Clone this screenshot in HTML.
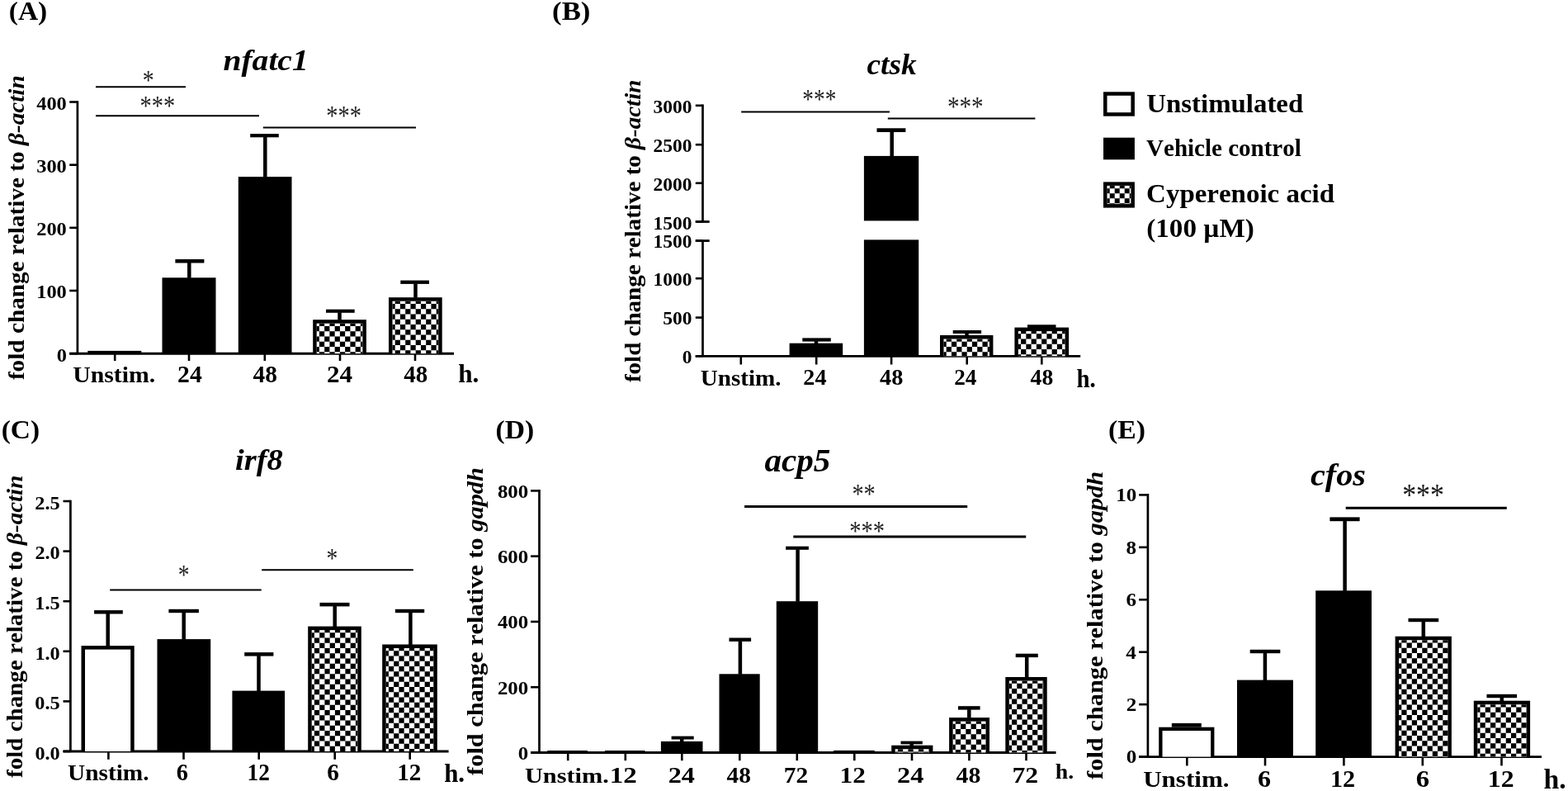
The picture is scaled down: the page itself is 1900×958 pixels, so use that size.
<!DOCTYPE html>
<html><head><meta charset="utf-8"><title>Figure</title>
<style>
html,body{margin:0;padding:0;background:#fff;width:1900px;height:958px;overflow:hidden}
svg{display:block}
text{font-family:"Liberation Serif", "Times New Roman", serif;font-kerning:none;font-variant-ligatures:none}
</style></head>
<body>
<svg width="1900" height="958" viewBox="0 0 1900 958">
<rect width="1900" height="958" fill="#fff"/>
<text transform="translate(10.83,23.7) scale(1.0456,1)" font-size="32" font-weight="bold" fill="#000">(A)</text>
<text transform="translate(270.49,85.4) scale(1.1045,1)" font-size="35.79" font-style="italic" font-weight="bold" fill="#000">nfatc1</text>
<text transform="translate(28.5,460.11) rotate(-90) scale(1.0779,1)" font-size="27.13" font-weight="bold" fill="#000">fold change relative to <tspan font-style="italic">&#946;-actin</tspan></text>
<line x1="93.9" y1="122.2" x2="93.9" y2="428.2" stroke="#000" stroke-width="2.7"/>
<line x1="84.2" y1="428.2" x2="93.9" y2="428.2" stroke="#000" stroke-width="2.6"/>
<text transform="translate(68.63,437.5) scale(1.0800,1)" font-size="22.6" font-weight="bold" fill="#000">0</text>
<line x1="84.2" y1="352.02" x2="93.9" y2="352.02" stroke="#000" stroke-width="2.6"/>
<text transform="translate(44.22,361.32) scale(1.0800,1)" font-size="22.6" font-weight="bold" fill="#000">100</text>
<line x1="84.2" y1="275.85" x2="93.9" y2="275.85" stroke="#000" stroke-width="2.6"/>
<text transform="translate(44.22,285.15) scale(1.0800,1)" font-size="22.6" font-weight="bold" fill="#000">200</text>
<line x1="84.2" y1="199.68" x2="93.9" y2="199.68" stroke="#000" stroke-width="2.6"/>
<text transform="translate(44.22,208.98) scale(1.0800,1)" font-size="22.6" font-weight="bold" fill="#000">300</text>
<line x1="84.2" y1="123.5" x2="93.9" y2="123.5" stroke="#000" stroke-width="2.6"/>
<text transform="translate(44.22,132.8) scale(1.0800,1)" font-size="22.6" font-weight="bold" fill="#000">400</text>
<line x1="84.2" y1="428.2" x2="550" y2="428.2" stroke="#000" stroke-width="3"/>
<line x1="139.2" y1="428.2" x2="139.2" y2="437.1" stroke="#000" stroke-width="2.6"/>
<line x1="229" y1="428.2" x2="229" y2="437.1" stroke="#000" stroke-width="2.6"/>
<line x1="320.8" y1="428.2" x2="320.8" y2="437.1" stroke="#000" stroke-width="2.6"/>
<line x1="412" y1="428.2" x2="412" y2="437.1" stroke="#000" stroke-width="2.6"/>
<line x1="503" y1="428.2" x2="503" y2="437.1" stroke="#000" stroke-width="2.6"/>
<rect x="106.3" y="424.9" width="65" height="3.3" fill="#000"/>
<rect x="196.5" y="336.3" width="65" height="91.9" fill="#000"/>
<rect x="227.05" y="318" width="4.5" height="18.8" fill="#000"/>
<rect x="212.4" y="314" width="35" height="4.5" fill="#000"/>
<rect x="288.8" y="214.1" width="64.7" height="214.1" fill="#000"/>
<rect x="319.05" y="165.8" width="4.5" height="48.8" fill="#000"/>
<rect x="303.2" y="162.1" width="34.6" height="4.2" fill="#000"/>
<rect x="379.2" y="387.2" width="64.7" height="41" fill="#000"/>
<rect x="383.7" y="391.7" width="55.7" height="36.5" fill="#fff"/>
<path d="M386.9 391.7H393.15V394.95H386.9ZM399.4 391.7H405.65V394.95H399.4ZM411.9 391.7H418.15V394.95H411.9ZM424.4 391.7H430.65V394.95H424.4ZM436.9 391.7H439.4V394.95H436.9ZM383.7 394.95H386.9V401.2H383.7ZM393.15 394.95H399.4V401.2H393.15ZM405.65 394.95H411.9V401.2H405.65ZM418.15 394.95H424.4V401.2H418.15ZM430.65 394.95H436.9V401.2H430.65ZM386.9 401.2H393.15V407.45H386.9ZM399.4 401.2H405.65V407.45H399.4ZM411.9 401.2H418.15V407.45H411.9ZM424.4 401.2H430.65V407.45H424.4ZM436.9 401.2H439.4V407.45H436.9ZM383.7 407.45H386.9V413.7H383.7ZM393.15 407.45H399.4V413.7H393.15ZM405.65 407.45H411.9V413.7H405.65ZM418.15 407.45H424.4V413.7H418.15ZM430.65 407.45H436.9V413.7H430.65ZM386.9 413.7H393.15V419.95H386.9ZM399.4 413.7H405.65V419.95H399.4ZM411.9 413.7H418.15V419.95H411.9ZM424.4 413.7H430.65V419.95H424.4ZM436.9 413.7H439.4V419.95H436.9ZM383.7 419.95H386.9V426.2H383.7ZM393.15 419.95H399.4V426.2H393.15ZM405.65 419.95H411.9V426.2H405.65ZM418.15 419.95H424.4V426.2H418.15ZM430.65 419.95H436.9V426.2H430.65ZM386.9 426.2H393.15V428.2H386.9ZM399.4 426.2H405.65V428.2H399.4ZM411.9 426.2H418.15V428.2H411.9ZM424.4 426.2H430.65V428.2H424.4ZM436.9 426.2H439.4V428.2H436.9Z" fill="#000"/>
<rect x="409.25" y="378.3" width="4.5" height="9.4" fill="#000"/>
<rect x="395" y="374.7" width="34.7" height="4.1" fill="#000"/>
<rect x="471" y="360.2" width="64.7" height="68" fill="#000"/>
<rect x="475.5" y="364.7" width="55.7" height="63.5" fill="#fff"/>
<path d="M478.7 364.7H484.95V367.95H478.7ZM491.2 364.7H497.45V367.95H491.2ZM503.7 364.7H509.95V367.95H503.7ZM516.2 364.7H522.45V367.95H516.2ZM528.7 364.7H531.2V367.95H528.7ZM475.5 367.95H478.7V374.2H475.5ZM484.95 367.95H491.2V374.2H484.95ZM497.45 367.95H503.7V374.2H497.45ZM509.95 367.95H516.2V374.2H509.95ZM522.45 367.95H528.7V374.2H522.45ZM478.7 374.2H484.95V380.45H478.7ZM491.2 374.2H497.45V380.45H491.2ZM503.7 374.2H509.95V380.45H503.7ZM516.2 374.2H522.45V380.45H516.2ZM528.7 374.2H531.2V380.45H528.7ZM475.5 380.45H478.7V386.7H475.5ZM484.95 380.45H491.2V386.7H484.95ZM497.45 380.45H503.7V386.7H497.45ZM509.95 380.45H516.2V386.7H509.95ZM522.45 380.45H528.7V386.7H522.45ZM478.7 386.7H484.95V392.95H478.7ZM491.2 386.7H497.45V392.95H491.2ZM503.7 386.7H509.95V392.95H503.7ZM516.2 386.7H522.45V392.95H516.2ZM528.7 386.7H531.2V392.95H528.7ZM475.5 392.95H478.7V399.2H475.5ZM484.95 392.95H491.2V399.2H484.95ZM497.45 392.95H503.7V399.2H497.45ZM509.95 392.95H516.2V399.2H509.95ZM522.45 392.95H528.7V399.2H522.45ZM478.7 399.2H484.95V405.45H478.7ZM491.2 399.2H497.45V405.45H491.2ZM503.7 399.2H509.95V405.45H503.7ZM516.2 399.2H522.45V405.45H516.2ZM528.7 399.2H531.2V405.45H528.7ZM475.5 405.45H478.7V411.7H475.5ZM484.95 405.45H491.2V411.7H484.95ZM497.45 405.45H503.7V411.7H497.45ZM509.95 405.45H516.2V411.7H509.95ZM522.45 405.45H528.7V411.7H522.45ZM478.7 411.7H484.95V417.95H478.7ZM491.2 411.7H497.45V417.95H491.2ZM503.7 411.7H509.95V417.95H503.7ZM516.2 411.7H522.45V417.95H516.2ZM528.7 411.7H531.2V417.95H528.7ZM475.5 417.95H478.7V424.2H475.5ZM484.95 417.95H491.2V424.2H484.95ZM497.45 417.95H503.7V424.2H497.45ZM509.95 417.95H516.2V424.2H509.95ZM522.45 417.95H528.7V424.2H522.45ZM478.7 424.2H484.95V428.2H478.7ZM491.2 424.2H497.45V428.2H491.2ZM503.7 424.2H509.95V428.2H503.7ZM516.2 424.2H522.45V428.2H516.2ZM528.7 424.2H531.2V428.2H528.7Z" fill="#000"/>
<rect x="501.25" y="343.4" width="4.5" height="17.3" fill="#000"/>
<rect x="485.3" y="339.6" width="34.7" height="4.3" fill="#000"/>
<line x1="116" y1="105.3" x2="225" y2="105.3" stroke="#000" stroke-width="2"/>
<text transform="translate(172.84,107.84) scale(0.8212,1)" font-size="33.82" fill="#222">*</text>
<line x1="116" y1="140.2" x2="314" y2="140.2" stroke="#000" stroke-width="2"/>
<text transform="translate(169.61,139.44) scale(0.8408,1)" font-size="33.82" fill="#222">***</text>
<line x1="318.8" y1="154.6" x2="504" y2="154.6" stroke="#000" stroke-width="2"/>
<text transform="translate(395.21,150.54) scale(0.8408,1)" font-size="33.82" fill="#222">***</text>
<text transform="translate(88.26,462.9) scale(1.0870,1)" font-size="27.38" font-weight="bold" fill="#000">Unstim.</text>
<text transform="translate(215.05,463) scale(1.0404,1)" font-size="28.55" font-weight="bold" fill="#000">24</text>
<text transform="translate(306.6,463) scale(1.0337,1)" font-size="28.42" font-weight="bold" fill="#000">48</text>
<text transform="translate(396.09,463) scale(1.0889,1)" font-size="28.55" font-weight="bold" fill="#000">24</text>
<text transform="translate(489.3,463) scale(1.0226,1)" font-size="28.42" font-weight="bold" fill="#000">48</text>
<text transform="translate(555.22,463.1) scale(0.9929,1)" font-size="31.42" font-weight="bold" fill="#000">h.</text>
<text transform="translate(669.07,23.7) scale(1.0869,1)" font-size="32" font-weight="bold" fill="#000">(B)</text>
<text transform="translate(1050.45,89.5) scale(1.0616,1)" font-size="35.17" font-style="italic" font-weight="bold" fill="#000">ctsk</text>
<text transform="translate(775.7,463.11) rotate(-90) scale(1.0543,1)" font-size="27.55" font-weight="bold" fill="#000">fold change relative to <tspan font-style="italic">&#946;-actin</tspan></text>
<line x1="851.5" y1="126.5" x2="851.5" y2="268.5" stroke="#000" stroke-width="2.7"/>
<line x1="842.8" y1="127.8" x2="851.5" y2="127.8" stroke="#000" stroke-width="2.6"/>
<text transform="translate(791.49,137) scale(1.0400,1)" font-size="22.6" font-weight="bold" fill="#000">3000</text>
<line x1="842.8" y1="175.2" x2="851.5" y2="175.2" stroke="#000" stroke-width="2.6"/>
<text transform="translate(791.49,184.4) scale(1.0400,1)" font-size="22.6" font-weight="bold" fill="#000">2500</text>
<line x1="842.8" y1="221.8" x2="851.5" y2="221.8" stroke="#000" stroke-width="2.6"/>
<text transform="translate(791.49,231) scale(1.0400,1)" font-size="22.6" font-weight="bold" fill="#000">2000</text>
<line x1="842.8" y1="268.5" x2="851.5" y2="268.5" stroke="#000" stroke-width="2.6"/>
<text transform="translate(791.49,277.7) scale(1.0400,1)" font-size="22.6" font-weight="bold" fill="#000">1500</text>
<line x1="851.5" y1="291.6" x2="851.5" y2="431.3" stroke="#000" stroke-width="2.7"/>
<line x1="842.8" y1="291.6" x2="851.5" y2="291.6" stroke="#000" stroke-width="2.6"/>
<text transform="translate(791.49,300) scale(1.0400,1)" font-size="22.6" font-weight="bold" fill="#000">1500</text>
<line x1="842.8" y1="337.2" x2="851.5" y2="337.2" stroke="#000" stroke-width="2.6"/>
<text transform="translate(791.49,345.6) scale(1.0400,1)" font-size="22.6" font-weight="bold" fill="#000">1000</text>
<line x1="842.8" y1="384.6" x2="851.5" y2="384.6" stroke="#000" stroke-width="2.6"/>
<text transform="translate(803.24,393) scale(1.0400,1)" font-size="22.6" font-weight="bold" fill="#000">500</text>
<line x1="842.8" y1="431.3" x2="851.5" y2="431.3" stroke="#000" stroke-width="2.6"/>
<text transform="translate(826.74,439.7) scale(1.0400,1)" font-size="22.6" font-weight="bold" fill="#000">0</text>
<line x1="842.8" y1="268.5" x2="859.7" y2="268.5" stroke="#000" stroke-width="2.8"/>
<line x1="842.8" y1="291.6" x2="859.7" y2="291.6" stroke="#000" stroke-width="2.8"/>
<line x1="842.7" y1="431.3" x2="1309.2" y2="431.3" stroke="#000" stroke-width="2.8"/>
<line x1="897.8" y1="431.3" x2="897.8" y2="441.5" stroke="#000" stroke-width="2.6"/>
<line x1="989.2" y1="431.3" x2="989.2" y2="441.5" stroke="#000" stroke-width="2.6"/>
<line x1="1080.1" y1="431.3" x2="1080.1" y2="441.5" stroke="#000" stroke-width="2.6"/>
<line x1="1171.7" y1="431.3" x2="1171.7" y2="441.5" stroke="#000" stroke-width="2.6"/>
<line x1="1262.3" y1="431.3" x2="1262.3" y2="441.5" stroke="#000" stroke-width="2.6"/>
<rect x="956.6" y="415.7" width="64.6" height="15.6" fill="#000"/>
<rect x="986.75" y="413.1" width="4.5" height="3.1" fill="#000"/>
<rect x="972.3" y="409.4" width="34.5" height="4.2" fill="#000"/>
<rect x="1046.9" y="188.9" width="66.3" height="78.5" fill="#000"/>
<rect x="1046.9" y="290.4" width="66.3" height="140.9" fill="#000"/>
<rect x="1078.45" y="159.5" width="4.5" height="29.9" fill="#000"/>
<rect x="1062.5" y="155.3" width="34.9" height="4.7" fill="#000"/>
<rect x="1139" y="406" width="64.4" height="25.3" fill="#000"/>
<rect x="1143.5" y="410.5" width="55.4" height="20.8" fill="#fff"/>
<path d="M1146.7 410.5H1152.95V413.75H1146.7ZM1159.2 410.5H1165.45V413.75H1159.2ZM1171.7 410.5H1177.95V413.75H1171.7ZM1184.2 410.5H1190.45V413.75H1184.2ZM1196.7 410.5H1198.9V413.75H1196.7ZM1143.5 413.75H1146.7V420H1143.5ZM1152.95 413.75H1159.2V420H1152.95ZM1165.45 413.75H1171.7V420H1165.45ZM1177.95 413.75H1184.2V420H1177.95ZM1190.45 413.75H1196.7V420H1190.45ZM1146.7 420H1152.95V426.25H1146.7ZM1159.2 420H1165.45V426.25H1159.2ZM1171.7 420H1177.95V426.25H1171.7ZM1184.2 420H1190.45V426.25H1184.2ZM1196.7 420H1198.9V426.25H1196.7ZM1143.5 426.25H1146.7V431.3H1143.5ZM1152.95 426.25H1159.2V431.3H1152.95ZM1165.45 426.25H1171.7V431.3H1165.45ZM1177.95 426.25H1184.2V431.3H1177.95ZM1190.45 426.25H1196.7V431.3H1190.45Z" fill="#000"/>
<rect x="1169.25" y="403.5" width="4.5" height="3" fill="#000"/>
<rect x="1154.7" y="400" width="34.4" height="4" fill="#000"/>
<rect x="1229.4" y="396.6" width="65.7" height="34.7" fill="#000"/>
<rect x="1233.9" y="401.1" width="56.7" height="30.2" fill="#fff"/>
<path d="M1237.1 401.1H1243.35V404.35H1237.1ZM1249.6 401.1H1255.85V404.35H1249.6ZM1262.1 401.1H1268.35V404.35H1262.1ZM1274.6 401.1H1280.85V404.35H1274.6ZM1287.1 401.1H1290.6V404.35H1287.1ZM1233.9 404.35H1237.1V410.6H1233.9ZM1243.35 404.35H1249.6V410.6H1243.35ZM1255.85 404.35H1262.1V410.6H1255.85ZM1268.35 404.35H1274.6V410.6H1268.35ZM1280.85 404.35H1287.1V410.6H1280.85ZM1237.1 410.6H1243.35V416.85H1237.1ZM1249.6 410.6H1255.85V416.85H1249.6ZM1262.1 410.6H1268.35V416.85H1262.1ZM1274.6 410.6H1280.85V416.85H1274.6ZM1287.1 410.6H1290.6V416.85H1287.1ZM1233.9 416.85H1237.1V423.1H1233.9ZM1243.35 416.85H1249.6V423.1H1243.35ZM1255.85 416.85H1262.1V423.1H1255.85ZM1268.35 416.85H1274.6V423.1H1268.35ZM1280.85 416.85H1287.1V423.1H1280.85ZM1237.1 423.1H1243.35V429.35H1237.1ZM1249.6 423.1H1255.85V429.35H1249.6ZM1262.1 423.1H1268.35V429.35H1262.1ZM1274.6 423.1H1280.85V429.35H1274.6ZM1287.1 423.1H1290.6V429.35H1287.1ZM1233.9 429.35H1237.1V431.3H1233.9ZM1243.35 429.35H1249.6V431.3H1243.35ZM1255.85 429.35H1262.1V431.3H1255.85ZM1268.35 429.35H1274.6V431.3H1268.35ZM1280.85 429.35H1287.1V431.3H1280.85Z" fill="#000"/>
<rect x="1245" y="393.3" width="34.5" height="4" fill="#000"/>
<line x1="898.2" y1="135.5" x2="1078" y2="135.5" stroke="#000" stroke-width="2"/>
<text transform="translate(972.37,131.33) scale(0.8340,1)" font-size="32.72" fill="#222">***</text>
<line x1="1075.8" y1="143.4" x2="1254.4" y2="143.4" stroke="#000" stroke-width="2"/>
<text transform="translate(1147.98,140.18) scale(0.8760,1)" font-size="33.27" fill="#222">***</text>
<text transform="translate(848.67,466.5) scale(1.0704,1)" font-size="27.24" font-weight="bold" fill="#000">Unstim.</text>
<text transform="translate(973.32,466.4) scale(1.0041,1)" font-size="28.09" font-weight="bold" fill="#000">24</text>
<text transform="translate(1066.01,466.4) scale(1.0129,1)" font-size="27.97" font-weight="bold" fill="#000">48</text>
<text transform="translate(1156.16,466.4) scale(0.9700,1)" font-size="28.09" font-weight="bold" fill="#000">24</text>
<text transform="translate(1248.62,466.4) scale(0.9866,1)" font-size="27.97" font-weight="bold" fill="#000">48</text>
<text transform="translate(1304.38,469.1) scale(0.9411,1)" font-size="30.7" font-weight="bold" fill="#000">h.</text>
<rect x="1337" y="111.3" width="37.9" height="29.4" fill="#000"/>
<rect x="1341.5" y="115.8" width="28.9" height="20.4" fill="#fff"/>
<rect x="1337" y="166.7" width="37.9" height="26.6" fill="#000"/>
<rect x="1337" y="220.4" width="37.9" height="31.2" fill="#000"/>
<rect x="1341.5" y="224.9" width="28.9" height="22.2" fill="#fff"/>
<path d="M1344.7 224.9H1350.7V228.3H1344.7ZM1356.7 224.9H1362.7V228.3H1356.7ZM1368.7 224.9H1370.4V228.3H1368.7ZM1341.5 228.3H1344.7V234.3H1341.5ZM1350.7 228.3H1356.7V234.3H1350.7ZM1362.7 228.3H1368.7V234.3H1362.7ZM1344.7 234.3H1350.7V240.3H1344.7ZM1356.7 234.3H1362.7V240.3H1356.7ZM1368.7 234.3H1370.4V240.3H1368.7ZM1341.5 240.3H1344.7V246.3H1341.5ZM1350.7 240.3H1356.7V246.3H1350.7ZM1362.7 240.3H1368.7V246.3H1362.7ZM1344.7 246.3H1350.7V247.1H1344.7ZM1356.7 246.3H1362.7V247.1H1356.7ZM1368.7 246.3H1370.4V247.1H1368.7Z" fill="#000"/>
<text transform="translate(1389.28,136.3) scale(1.0139,1)" font-size="32.43" font-weight="bold" fill="#000">Unstimulated</text>
<text transform="translate(1389.07,188.8) scale(1.0071,1)" font-size="28.82" font-weight="bold" fill="#000">Vehicle control</text>
<text transform="translate(1389.09,245.3) scale(1.0546,1)" font-size="31.27" font-weight="bold" fill="#000">Cyperenoic acid</text>
<text transform="translate(1389.24,287) scale(1.0410,1)" font-size="31.85" font-weight="bold" fill="#000">(100 &#181;M)</text>
<text transform="translate(1.63,531) scale(1.0551,1)" font-size="31.71" font-weight="bold" fill="#000">(C)</text>
<text transform="translate(285.02,569.2) scale(1.0633,1)" font-size="36.22" font-style="italic" font-weight="bold" fill="#000">irf8</text>
<text transform="translate(27,941.91) rotate(-90) scale(1.0589,1)" font-size="27.41" font-weight="bold" fill="#000">fold change relative to <tspan font-style="italic">&#946;-actin</tspan></text>
<line x1="85.4" y1="605.7" x2="85.4" y2="910" stroke="#000" stroke-width="2.7"/>
<line x1="76.5" y1="910" x2="85.4" y2="910" stroke="#000" stroke-width="2.6"/>
<text transform="translate(42.38,919.7) scale(1.0600,1)" font-size="22.9" font-weight="bold" fill="#000">0.0</text>
<line x1="76.5" y1="849.4" x2="85.4" y2="849.4" stroke="#000" stroke-width="2.6"/>
<text transform="translate(42.35,859.1) scale(1.0600,1)" font-size="22.9" font-weight="bold" fill="#000">0.5</text>
<line x1="76.5" y1="788.8" x2="85.4" y2="788.8" stroke="#000" stroke-width="2.6"/>
<text transform="translate(42.38,798.5) scale(1.0600,1)" font-size="22.9" font-weight="bold" fill="#000">1.0</text>
<line x1="76.5" y1="728.2" x2="85.4" y2="728.2" stroke="#000" stroke-width="2.6"/>
<text transform="translate(42.35,737.9) scale(1.0600,1)" font-size="22.9" font-weight="bold" fill="#000">1.5</text>
<line x1="76.5" y1="667.6" x2="85.4" y2="667.6" stroke="#000" stroke-width="2.6"/>
<text transform="translate(42.38,677.3) scale(1.0600,1)" font-size="22.9" font-weight="bold" fill="#000">2.0</text>
<line x1="76.5" y1="607" x2="85.4" y2="607" stroke="#000" stroke-width="2.6"/>
<text transform="translate(42.35,616.7) scale(1.0600,1)" font-size="22.9" font-weight="bold" fill="#000">2.5</text>
<line x1="76.5" y1="910" x2="543.6" y2="910" stroke="#000" stroke-width="3"/>
<line x1="131.4" y1="910" x2="131.4" y2="919.8" stroke="#000" stroke-width="2.6"/>
<line x1="222.5" y1="910" x2="222.5" y2="919.8" stroke="#000" stroke-width="2.6"/>
<line x1="313.7" y1="910" x2="313.7" y2="919.8" stroke="#000" stroke-width="2.6"/>
<line x1="405.7" y1="910" x2="405.7" y2="919.8" stroke="#000" stroke-width="2.6"/>
<line x1="496.7" y1="910" x2="496.7" y2="919.8" stroke="#000" stroke-width="2.6"/>
<rect x="98.5" y="782.1" width="64.2" height="127.9" fill="#000"/>
<rect x="103" y="786.6" width="55.2" height="123.4" fill="#fff"/>
<rect x="128.45" y="743" width="4.5" height="39.6" fill="#000"/>
<rect x="114.1" y="739.1" width="34.7" height="4.4" fill="#000"/>
<rect x="190.5" y="774.1" width="64.7" height="135.9" fill="#000"/>
<rect x="220.45" y="741.7" width="4.5" height="32.9" fill="#000"/>
<rect x="204.4" y="737.8" width="36.5" height="4.4" fill="#000"/>
<rect x="281.4" y="836.6" width="63.7" height="73.4" fill="#000"/>
<rect x="311.25" y="794.1" width="4.5" height="43" fill="#000"/>
<rect x="296.2" y="790.1" width="35.2" height="4.5" fill="#000"/>
<rect x="373.2" y="758.6" width="64.6" height="151.4" fill="#000"/>
<rect x="377.7" y="763.1" width="55.6" height="146.9" fill="#fff"/>
<path d="M380.9 763.1H387.15V766.35H380.9ZM393.4 763.1H399.65V766.35H393.4ZM405.9 763.1H412.15V766.35H405.9ZM418.4 763.1H424.65V766.35H418.4ZM430.9 763.1H433.3V766.35H430.9ZM377.7 766.35H380.9V772.6H377.7ZM387.15 766.35H393.4V772.6H387.15ZM399.65 766.35H405.9V772.6H399.65ZM412.15 766.35H418.4V772.6H412.15ZM424.65 766.35H430.9V772.6H424.65ZM380.9 772.6H387.15V778.85H380.9ZM393.4 772.6H399.65V778.85H393.4ZM405.9 772.6H412.15V778.85H405.9ZM418.4 772.6H424.65V778.85H418.4ZM430.9 772.6H433.3V778.85H430.9ZM377.7 778.85H380.9V785.1H377.7ZM387.15 778.85H393.4V785.1H387.15ZM399.65 778.85H405.9V785.1H399.65ZM412.15 778.85H418.4V785.1H412.15ZM424.65 778.85H430.9V785.1H424.65ZM380.9 785.1H387.15V791.35H380.9ZM393.4 785.1H399.65V791.35H393.4ZM405.9 785.1H412.15V791.35H405.9ZM418.4 785.1H424.65V791.35H418.4ZM430.9 785.1H433.3V791.35H430.9ZM377.7 791.35H380.9V797.6H377.7ZM387.15 791.35H393.4V797.6H387.15ZM399.65 791.35H405.9V797.6H399.65ZM412.15 791.35H418.4V797.6H412.15ZM424.65 791.35H430.9V797.6H424.65ZM380.9 797.6H387.15V803.85H380.9ZM393.4 797.6H399.65V803.85H393.4ZM405.9 797.6H412.15V803.85H405.9ZM418.4 797.6H424.65V803.85H418.4ZM430.9 797.6H433.3V803.85H430.9ZM377.7 803.85H380.9V810.1H377.7ZM387.15 803.85H393.4V810.1H387.15ZM399.65 803.85H405.9V810.1H399.65ZM412.15 803.85H418.4V810.1H412.15ZM424.65 803.85H430.9V810.1H424.65ZM380.9 810.1H387.15V816.35H380.9ZM393.4 810.1H399.65V816.35H393.4ZM405.9 810.1H412.15V816.35H405.9ZM418.4 810.1H424.65V816.35H418.4ZM430.9 810.1H433.3V816.35H430.9ZM377.7 816.35H380.9V822.6H377.7ZM387.15 816.35H393.4V822.6H387.15ZM399.65 816.35H405.9V822.6H399.65ZM412.15 816.35H418.4V822.6H412.15ZM424.65 816.35H430.9V822.6H424.65ZM380.9 822.6H387.15V828.85H380.9ZM393.4 822.6H399.65V828.85H393.4ZM405.9 822.6H412.15V828.85H405.9ZM418.4 822.6H424.65V828.85H418.4ZM430.9 822.6H433.3V828.85H430.9ZM377.7 828.85H380.9V835.1H377.7ZM387.15 828.85H393.4V835.1H387.15ZM399.65 828.85H405.9V835.1H399.65ZM412.15 828.85H418.4V835.1H412.15ZM424.65 828.85H430.9V835.1H424.65ZM380.9 835.1H387.15V841.35H380.9ZM393.4 835.1H399.65V841.35H393.4ZM405.9 835.1H412.15V841.35H405.9ZM418.4 835.1H424.65V841.35H418.4ZM430.9 835.1H433.3V841.35H430.9ZM377.7 841.35H380.9V847.6H377.7ZM387.15 841.35H393.4V847.6H387.15ZM399.65 841.35H405.9V847.6H399.65ZM412.15 841.35H418.4V847.6H412.15ZM424.65 841.35H430.9V847.6H424.65ZM380.9 847.6H387.15V853.85H380.9ZM393.4 847.6H399.65V853.85H393.4ZM405.9 847.6H412.15V853.85H405.9ZM418.4 847.6H424.65V853.85H418.4ZM430.9 847.6H433.3V853.85H430.9ZM377.7 853.85H380.9V860.1H377.7ZM387.15 853.85H393.4V860.1H387.15ZM399.65 853.85H405.9V860.1H399.65ZM412.15 853.85H418.4V860.1H412.15ZM424.65 853.85H430.9V860.1H424.65ZM380.9 860.1H387.15V866.35H380.9ZM393.4 860.1H399.65V866.35H393.4ZM405.9 860.1H412.15V866.35H405.9ZM418.4 860.1H424.65V866.35H418.4ZM430.9 860.1H433.3V866.35H430.9ZM377.7 866.35H380.9V872.6H377.7ZM387.15 866.35H393.4V872.6H387.15ZM399.65 866.35H405.9V872.6H399.65ZM412.15 866.35H418.4V872.6H412.15ZM424.65 866.35H430.9V872.6H424.65ZM380.9 872.6H387.15V878.85H380.9ZM393.4 872.6H399.65V878.85H393.4ZM405.9 872.6H412.15V878.85H405.9ZM418.4 872.6H424.65V878.85H418.4ZM430.9 872.6H433.3V878.85H430.9ZM377.7 878.85H380.9V885.1H377.7ZM387.15 878.85H393.4V885.1H387.15ZM399.65 878.85H405.9V885.1H399.65ZM412.15 878.85H418.4V885.1H412.15ZM424.65 878.85H430.9V885.1H424.65ZM380.9 885.1H387.15V891.35H380.9ZM393.4 885.1H399.65V891.35H393.4ZM405.9 885.1H412.15V891.35H405.9ZM418.4 885.1H424.65V891.35H418.4ZM430.9 885.1H433.3V891.35H430.9ZM377.7 891.35H380.9V897.6H377.7ZM387.15 891.35H393.4V897.6H387.15ZM399.65 891.35H405.9V897.6H399.65ZM412.15 891.35H418.4V897.6H412.15ZM424.65 891.35H430.9V897.6H424.65ZM380.9 897.6H387.15V903.85H380.9ZM393.4 897.6H399.65V903.85H393.4ZM405.9 897.6H412.15V903.85H405.9ZM418.4 897.6H424.65V903.85H418.4ZM430.9 897.6H433.3V903.85H430.9ZM377.7 903.85H380.9V910H377.7ZM387.15 903.85H393.4V910H387.15ZM399.65 903.85H405.9V910H399.65ZM412.15 903.85H418.4V910H412.15ZM424.65 903.85H430.9V910H424.65Z" fill="#000"/>
<rect x="403.45" y="733.9" width="4.5" height="25.2" fill="#000"/>
<rect x="387.5" y="729.9" width="36" height="4.5" fill="#000"/>
<rect x="463.2" y="780.5" width="66.6" height="129.5" fill="#000"/>
<rect x="467.7" y="785" width="57.6" height="125" fill="#fff"/>
<path d="M470.9 785H477.15V788.25H470.9ZM483.4 785H489.65V788.25H483.4ZM495.9 785H502.15V788.25H495.9ZM508.4 785H514.65V788.25H508.4ZM520.9 785H525.3V788.25H520.9ZM467.7 788.25H470.9V794.5H467.7ZM477.15 788.25H483.4V794.5H477.15ZM489.65 788.25H495.9V794.5H489.65ZM502.15 788.25H508.4V794.5H502.15ZM514.65 788.25H520.9V794.5H514.65ZM470.9 794.5H477.15V800.75H470.9ZM483.4 794.5H489.65V800.75H483.4ZM495.9 794.5H502.15V800.75H495.9ZM508.4 794.5H514.65V800.75H508.4ZM520.9 794.5H525.3V800.75H520.9ZM467.7 800.75H470.9V807H467.7ZM477.15 800.75H483.4V807H477.15ZM489.65 800.75H495.9V807H489.65ZM502.15 800.75H508.4V807H502.15ZM514.65 800.75H520.9V807H514.65ZM470.9 807H477.15V813.25H470.9ZM483.4 807H489.65V813.25H483.4ZM495.9 807H502.15V813.25H495.9ZM508.4 807H514.65V813.25H508.4ZM520.9 807H525.3V813.25H520.9ZM467.7 813.25H470.9V819.5H467.7ZM477.15 813.25H483.4V819.5H477.15ZM489.65 813.25H495.9V819.5H489.65ZM502.15 813.25H508.4V819.5H502.15ZM514.65 813.25H520.9V819.5H514.65ZM470.9 819.5H477.15V825.75H470.9ZM483.4 819.5H489.65V825.75H483.4ZM495.9 819.5H502.15V825.75H495.9ZM508.4 819.5H514.65V825.75H508.4ZM520.9 819.5H525.3V825.75H520.9ZM467.7 825.75H470.9V832H467.7ZM477.15 825.75H483.4V832H477.15ZM489.65 825.75H495.9V832H489.65ZM502.15 825.75H508.4V832H502.15ZM514.65 825.75H520.9V832H514.65ZM470.9 832H477.15V838.25H470.9ZM483.4 832H489.65V838.25H483.4ZM495.9 832H502.15V838.25H495.9ZM508.4 832H514.65V838.25H508.4ZM520.9 832H525.3V838.25H520.9ZM467.7 838.25H470.9V844.5H467.7ZM477.15 838.25H483.4V844.5H477.15ZM489.65 838.25H495.9V844.5H489.65ZM502.15 838.25H508.4V844.5H502.15ZM514.65 838.25H520.9V844.5H514.65ZM470.9 844.5H477.15V850.75H470.9ZM483.4 844.5H489.65V850.75H483.4ZM495.9 844.5H502.15V850.75H495.9ZM508.4 844.5H514.65V850.75H508.4ZM520.9 844.5H525.3V850.75H520.9ZM467.7 850.75H470.9V857H467.7ZM477.15 850.75H483.4V857H477.15ZM489.65 850.75H495.9V857H489.65ZM502.15 850.75H508.4V857H502.15ZM514.65 850.75H520.9V857H514.65ZM470.9 857H477.15V863.25H470.9ZM483.4 857H489.65V863.25H483.4ZM495.9 857H502.15V863.25H495.9ZM508.4 857H514.65V863.25H508.4ZM520.9 857H525.3V863.25H520.9ZM467.7 863.25H470.9V869.5H467.7ZM477.15 863.25H483.4V869.5H477.15ZM489.65 863.25H495.9V869.5H489.65ZM502.15 863.25H508.4V869.5H502.15ZM514.65 863.25H520.9V869.5H514.65ZM470.9 869.5H477.15V875.75H470.9ZM483.4 869.5H489.65V875.75H483.4ZM495.9 869.5H502.15V875.75H495.9ZM508.4 869.5H514.65V875.75H508.4ZM520.9 869.5H525.3V875.75H520.9ZM467.7 875.75H470.9V882H467.7ZM477.15 875.75H483.4V882H477.15ZM489.65 875.75H495.9V882H489.65ZM502.15 875.75H508.4V882H502.15ZM514.65 875.75H520.9V882H514.65ZM470.9 882H477.15V888.25H470.9ZM483.4 882H489.65V888.25H483.4ZM495.9 882H502.15V888.25H495.9ZM508.4 882H514.65V888.25H508.4ZM520.9 882H525.3V888.25H520.9ZM467.7 888.25H470.9V894.5H467.7ZM477.15 888.25H483.4V894.5H477.15ZM489.65 888.25H495.9V894.5H489.65ZM502.15 888.25H508.4V894.5H502.15ZM514.65 888.25H520.9V894.5H514.65ZM470.9 894.5H477.15V900.75H470.9ZM483.4 894.5H489.65V900.75H483.4ZM495.9 894.5H502.15V900.75H495.9ZM508.4 894.5H514.65V900.75H508.4ZM520.9 894.5H525.3V900.75H520.9ZM467.7 900.75H470.9V907H467.7ZM477.15 900.75H483.4V907H477.15ZM489.65 900.75H495.9V907H489.65ZM502.15 900.75H508.4V907H502.15ZM514.65 900.75H520.9V907H514.65ZM470.9 907H477.15V910H470.9ZM483.4 907H489.65V910H483.4ZM495.9 907H502.15V910H495.9ZM508.4 907H514.65V910H508.4ZM520.9 907H525.3V910H520.9Z" fill="#000"/>
<rect x="495.15" y="741.7" width="4.5" height="39.3" fill="#000"/>
<rect x="478.9" y="737.8" width="35.3" height="4.4" fill="#000"/>
<line x1="133.2" y1="714.4" x2="316.7" y2="714.4" stroke="#000" stroke-width="2"/>
<text transform="translate(215.76,707.42) scale(0.8074,1)" font-size="34.09" fill="#222">*</text>
<line x1="317.2" y1="690.3" x2="500.8" y2="690.3" stroke="#000" stroke-width="2"/>
<text transform="translate(395.56,687.12) scale(0.8074,1)" font-size="34.09" fill="#222">*</text>
<text transform="translate(82.07,945.3) scale(1.0647,1)" font-size="27.53" font-weight="bold" fill="#000">Unstim.</text>
<text transform="translate(213.83,945.3) scale(0.9847,1)" font-size="28.85" font-weight="bold" fill="#000">6</text>
<text transform="translate(299.51,945.3) scale(0.9638,1)" font-size="28.39" font-weight="bold" fill="#000">12</text>
<text transform="translate(396.3,945.4) scale(1.0112,1)" font-size="29" font-weight="bold" fill="#000">6</text>
<text transform="translate(481.16,945.4) scale(1.0227,1)" font-size="28.55" font-weight="bold" fill="#000">12</text>
<text transform="translate(538.13,947) scale(0.9622,1)" font-size="32.14" font-weight="bold" fill="#000">h.</text>
<text transform="translate(600.62,531.1) scale(1.0457,1)" font-size="32.14" font-weight="bold" fill="#000">(D)</text>
<text transform="translate(926.42,570.7) scale(1.0048,1)" font-size="40.93" font-style="italic" font-weight="bold" fill="#000">acp5</text>
<text transform="translate(585.2,938.92) rotate(-90) scale(1.1140,1)" font-size="27.27" font-weight="bold" fill="#000">fold change relative to <tspan font-style="italic">gapdh</tspan></text>
<line x1="653.5" y1="593.1" x2="653.5" y2="911.5" stroke="#000" stroke-width="2.7"/>
<line x1="643.1" y1="911.5" x2="653.5" y2="911.5" stroke="#000" stroke-width="2.6"/>
<text transform="translate(627.79,919.9) scale(1.0600,1)" font-size="23.5" font-weight="bold" fill="#000">0</text>
<line x1="643.1" y1="832.23" x2="653.5" y2="832.23" stroke="#000" stroke-width="2.6"/>
<text transform="translate(602.88,840.62) scale(1.0600,1)" font-size="23.5" font-weight="bold" fill="#000">200</text>
<line x1="643.1" y1="752.95" x2="653.5" y2="752.95" stroke="#000" stroke-width="2.6"/>
<text transform="translate(602.88,761.35) scale(1.0600,1)" font-size="23.5" font-weight="bold" fill="#000">400</text>
<line x1="643.1" y1="673.67" x2="653.5" y2="673.67" stroke="#000" stroke-width="2.6"/>
<text transform="translate(602.88,682.07) scale(1.0600,1)" font-size="23.5" font-weight="bold" fill="#000">600</text>
<line x1="643.1" y1="594.4" x2="653.5" y2="594.4" stroke="#000" stroke-width="2.6"/>
<text transform="translate(602.88,602.8) scale(1.0600,1)" font-size="23.5" font-weight="bold" fill="#000">800</text>
<line x1="643.1" y1="911.5" x2="1279.5" y2="911.5" stroke="#000" stroke-width="3"/>
<line x1="688.2" y1="911.5" x2="688.2" y2="921.2" stroke="#000" stroke-width="2.6"/>
<line x1="757.8" y1="911.5" x2="757.8" y2="921.2" stroke="#000" stroke-width="2.6"/>
<line x1="826.3" y1="911.5" x2="826.3" y2="921.2" stroke="#000" stroke-width="2.6"/>
<line x1="896.3" y1="911.5" x2="896.3" y2="921.2" stroke="#000" stroke-width="2.6"/>
<line x1="965.8" y1="911.5" x2="965.8" y2="921.2" stroke="#000" stroke-width="2.6"/>
<line x1="1035.3" y1="911.5" x2="1035.3" y2="921.2" stroke="#000" stroke-width="2.6"/>
<line x1="1105" y1="911.5" x2="1105" y2="921.2" stroke="#000" stroke-width="2.6"/>
<line x1="1174.4" y1="911.5" x2="1174.4" y2="921.2" stroke="#000" stroke-width="2.6"/>
<line x1="1243.5" y1="911.5" x2="1243.5" y2="921.2" stroke="#000" stroke-width="2.6"/>
<rect x="663.3" y="909" width="48.6" height="2.5" fill="#000"/>
<rect x="732.9" y="909" width="48.6" height="2.5" fill="#000"/>
<rect x="800.9" y="897.9" width="50.6" height="13.6" fill="#000"/>
<rect x="823.95" y="895" width="4.5" height="3.4" fill="#000"/>
<rect x="813.6" y="891.6" width="27.1" height="3.9" fill="#000"/>
<rect x="871.5" y="816.3" width="49.2" height="95.2" fill="#000"/>
<rect x="894.65" y="776.4" width="4.5" height="40.4" fill="#000"/>
<rect x="883.5" y="772.5" width="26.6" height="4.4" fill="#000"/>
<rect x="940.8" y="728.2" width="50.4" height="183.3" fill="#000"/>
<rect x="964.35" y="665.3" width="4.5" height="63.4" fill="#000"/>
<rect x="952.2" y="661.7" width="27.7" height="4.1" fill="#000"/>
<rect x="1010.1" y="908.9" width="49.7" height="2.6" fill="#000"/>
<rect x="1080.2" y="902.7" width="50.2" height="8.8" fill="#000"/>
<rect x="1084.7" y="907.2" width="41.2" height="4.3" fill="#fff"/>
<path d="M1087.9 907.2H1094.15V910.45H1087.9ZM1100.4 907.2H1106.65V910.45H1100.4ZM1112.9 907.2H1119.15V910.45H1112.9ZM1125.4 907.2H1125.9V910.45H1125.4ZM1084.7 910.45H1087.9V911.5H1084.7ZM1094.15 910.45H1100.4V911.5H1094.15ZM1106.65 910.45H1112.9V911.5H1106.65ZM1119.15 910.45H1125.4V911.5H1119.15Z" fill="#000"/>
<rect x="1102.45" y="900.8" width="4.5" height="2.4" fill="#000"/>
<rect x="1091.5" y="897.6" width="26.3" height="3.7" fill="#000"/>
<rect x="1150.1" y="869.1" width="48.9" height="42.4" fill="#000"/>
<rect x="1154.6" y="873.6" width="39.9" height="37.9" fill="#fff"/>
<path d="M1157.8 873.6H1164.05V876.85H1157.8ZM1170.3 873.6H1176.55V876.85H1170.3ZM1182.8 873.6H1189.05V876.85H1182.8ZM1154.6 876.85H1157.8V883.1H1154.6ZM1164.05 876.85H1170.3V883.1H1164.05ZM1176.55 876.85H1182.8V883.1H1176.55ZM1189.05 876.85H1194.5V883.1H1189.05ZM1157.8 883.1H1164.05V889.35H1157.8ZM1170.3 883.1H1176.55V889.35H1170.3ZM1182.8 883.1H1189.05V889.35H1182.8ZM1154.6 889.35H1157.8V895.6H1154.6ZM1164.05 889.35H1170.3V895.6H1164.05ZM1176.55 889.35H1182.8V895.6H1176.55ZM1189.05 889.35H1194.5V895.6H1189.05ZM1157.8 895.6H1164.05V901.85H1157.8ZM1170.3 895.6H1176.55V901.85H1170.3ZM1182.8 895.6H1189.05V901.85H1182.8ZM1154.6 901.85H1157.8V908.1H1154.6ZM1164.05 901.85H1170.3V908.1H1164.05ZM1176.55 901.85H1182.8V908.1H1176.55ZM1189.05 901.85H1194.5V908.1H1189.05ZM1157.8 908.1H1164.05V911.5H1157.8ZM1170.3 908.1H1176.55V911.5H1170.3ZM1182.8 908.1H1189.05V911.5H1182.8Z" fill="#000"/>
<rect x="1172.05" y="859.1" width="4.5" height="10.5" fill="#000"/>
<rect x="1161" y="855.2" width="26.6" height="4.4" fill="#000"/>
<rect x="1218.3" y="820" width="50.4" height="91.5" fill="#000"/>
<rect x="1222.8" y="824.5" width="41.4" height="87" fill="#fff"/>
<path d="M1226 824.5H1232.25V827.75H1226ZM1238.5 824.5H1244.75V827.75H1238.5ZM1251 824.5H1257.25V827.75H1251ZM1263.5 824.5H1264.2V827.75H1263.5ZM1222.8 827.75H1226V834H1222.8ZM1232.25 827.75H1238.5V834H1232.25ZM1244.75 827.75H1251V834H1244.75ZM1257.25 827.75H1263.5V834H1257.25ZM1226 834H1232.25V840.25H1226ZM1238.5 834H1244.75V840.25H1238.5ZM1251 834H1257.25V840.25H1251ZM1263.5 834H1264.2V840.25H1263.5ZM1222.8 840.25H1226V846.5H1222.8ZM1232.25 840.25H1238.5V846.5H1232.25ZM1244.75 840.25H1251V846.5H1244.75ZM1257.25 840.25H1263.5V846.5H1257.25ZM1226 846.5H1232.25V852.75H1226ZM1238.5 846.5H1244.75V852.75H1238.5ZM1251 846.5H1257.25V852.75H1251ZM1263.5 846.5H1264.2V852.75H1263.5ZM1222.8 852.75H1226V859H1222.8ZM1232.25 852.75H1238.5V859H1232.25ZM1244.75 852.75H1251V859H1244.75ZM1257.25 852.75H1263.5V859H1257.25ZM1226 859H1232.25V865.25H1226ZM1238.5 859H1244.75V865.25H1238.5ZM1251 859H1257.25V865.25H1251ZM1263.5 859H1264.2V865.25H1263.5ZM1222.8 865.25H1226V871.5H1222.8ZM1232.25 865.25H1238.5V871.5H1232.25ZM1244.75 865.25H1251V871.5H1244.75ZM1257.25 865.25H1263.5V871.5H1257.25ZM1226 871.5H1232.25V877.75H1226ZM1238.5 871.5H1244.75V877.75H1238.5ZM1251 871.5H1257.25V877.75H1251ZM1263.5 871.5H1264.2V877.75H1263.5ZM1222.8 877.75H1226V884H1222.8ZM1232.25 877.75H1238.5V884H1232.25ZM1244.75 877.75H1251V884H1244.75ZM1257.25 877.75H1263.5V884H1257.25ZM1226 884H1232.25V890.25H1226ZM1238.5 884H1244.75V890.25H1238.5ZM1251 884H1257.25V890.25H1251ZM1263.5 884H1264.2V890.25H1263.5ZM1222.8 890.25H1226V896.5H1222.8ZM1232.25 890.25H1238.5V896.5H1232.25ZM1244.75 890.25H1251V896.5H1244.75ZM1257.25 890.25H1263.5V896.5H1257.25ZM1226 896.5H1232.25V902.75H1226ZM1238.5 896.5H1244.75V902.75H1238.5ZM1251 896.5H1257.25V902.75H1251ZM1263.5 896.5H1264.2V902.75H1263.5ZM1222.8 902.75H1226V909H1222.8ZM1232.25 902.75H1238.5V909H1232.25ZM1244.75 902.75H1251V909H1244.75ZM1257.25 902.75H1263.5V909H1257.25ZM1226 909H1232.25V911.5H1226ZM1238.5 909H1244.75V911.5H1238.5ZM1251 909H1257.25V911.5H1251ZM1263.5 909H1264.2V911.5H1263.5Z" fill="#000"/>
<rect x="1241.95" y="795.6" width="4.5" height="24.9" fill="#000"/>
<rect x="1230.7" y="791.7" width="27.1" height="4.4" fill="#000"/>
<line x1="902.1" y1="613.6" x2="1172.2" y2="613.6" stroke="#000" stroke-width="3"/>
<text transform="translate(1032.42,609.06) scale(0.8449,1)" font-size="33.54" fill="#222">**</text>
<line x1="961.3" y1="650.1" x2="1243.2" y2="650.1" stroke="#000" stroke-width="3"/>
<text transform="translate(1029.31,653.8) scale(0.8296,1)" font-size="34.36" fill="#222">***</text>
<text transform="translate(635.95,948) scale(1.1620,1)" font-size="26.09" font-weight="bold" fill="#000">Unstim.</text>
<text transform="translate(738.75,948) scale(1.2097,1)" font-size="27.34" font-weight="bold" fill="#000">12</text>
<text transform="translate(809.65,948) scale(1.1669,1)" font-size="27.64" font-weight="bold" fill="#000">24</text>
<text transform="translate(880.6,948) scale(1.0676,1)" font-size="27.52" font-weight="bold" fill="#000">48</text>
<text transform="translate(949.82,948) scale(1.0654,1)" font-size="27.64" font-weight="bold" fill="#000">72</text>
<text transform="translate(1017.49,948) scale(1.1346,1)" font-size="27.64" font-weight="bold" fill="#000">12</text>
<text transform="translate(1087.05,948) scale(1.1669,1)" font-size="27.64" font-weight="bold" fill="#000">24</text>
<text transform="translate(1158.59,948) scale(1.0828,1)" font-size="27.52" font-weight="bold" fill="#000">48</text>
<text transform="translate(1226.49,948) scale(1.1459,1)" font-size="27.64" font-weight="bold" fill="#000">72</text>
<text transform="translate(1278.81,942.5) scale(1.1282,1)" font-size="24.65" font-weight="bold" fill="#000">h.</text>
<text transform="translate(1343.12,531.1) scale(1.0449,1)" font-size="32.28" font-weight="bold" fill="#000">(E)</text>
<text transform="translate(1587.91,588.1) scale(1.0492,1)" font-size="38.35" font-style="italic" font-weight="bold" fill="#000">cfos</text>
<text transform="translate(1335.5,943.92) rotate(-90) scale(1.1089,1)" font-size="27.41" font-weight="bold" fill="#000">fold change relative to <tspan font-style="italic">gapdh</tspan></text>
<line x1="1390.9" y1="598.1" x2="1390.9" y2="916.6" stroke="#000" stroke-width="2.7"/>
<line x1="1380.1" y1="916.6" x2="1390.9" y2="916.6" stroke="#000" stroke-width="2.6"/>
<text transform="translate(1364.72,924.4) scale(1.1000,1)" font-size="22.8" font-weight="bold" fill="#000">0</text>
<line x1="1380.1" y1="853.16" x2="1390.9" y2="853.16" stroke="#000" stroke-width="2.6"/>
<text transform="translate(1364.84,860.96) scale(1.1000,1)" font-size="22.8" font-weight="bold" fill="#000">2</text>
<line x1="1380.1" y1="789.72" x2="1390.9" y2="789.72" stroke="#000" stroke-width="2.6"/>
<text transform="translate(1364.23,797.52) scale(1.1000,1)" font-size="22.8" font-weight="bold" fill="#000">4</text>
<line x1="1380.1" y1="726.28" x2="1390.9" y2="726.28" stroke="#000" stroke-width="2.6"/>
<text transform="translate(1364.49,734.08) scale(1.1000,1)" font-size="22.8" font-weight="bold" fill="#000">6</text>
<line x1="1380.1" y1="662.84" x2="1390.9" y2="662.84" stroke="#000" stroke-width="2.6"/>
<text transform="translate(1364.59,670.64) scale(1.1000,1)" font-size="22.8" font-weight="bold" fill="#000">8</text>
<line x1="1380.1" y1="599.4" x2="1390.9" y2="599.4" stroke="#000" stroke-width="2.6"/>
<text transform="translate(1352.18,607.2) scale(1.1000,1)" font-size="22.8" font-weight="bold" fill="#000">10</text>
<line x1="1380.1" y1="916.6" x2="1868" y2="916.6" stroke="#000" stroke-width="2.9"/>
<line x1="1438.3" y1="916.6" x2="1438.3" y2="927.4" stroke="#000" stroke-width="2.6"/>
<line x1="1533" y1="916.6" x2="1533" y2="927.4" stroke="#000" stroke-width="2.6"/>
<line x1="1628.4" y1="916.6" x2="1628.4" y2="927.4" stroke="#000" stroke-width="2.6"/>
<line x1="1723.8" y1="916.6" x2="1723.8" y2="927.4" stroke="#000" stroke-width="2.6"/>
<line x1="1819.5" y1="916.6" x2="1819.5" y2="927.4" stroke="#000" stroke-width="2.6"/>
<rect x="1404.2" y="880.7" width="67.2" height="35.9" fill="#000"/>
<rect x="1408.5" y="885" width="58.6" height="31.6" fill="#fff"/>
<rect x="1419.8" y="875.9" width="36" height="4.8" fill="#000"/>
<rect x="1499" y="823.6" width="67.9" height="93" fill="#000"/>
<rect x="1530.65" y="790.7" width="4.5" height="33.4" fill="#000"/>
<rect x="1514.7" y="786.8" width="36.6" height="4.4" fill="#000"/>
<rect x="1594.2" y="715.3" width="67.8" height="201.3" fill="#000"/>
<rect x="1627.35" y="630.7" width="4.5" height="85.1" fill="#000"/>
<rect x="1611.4" y="626.4" width="36.2" height="4.8" fill="#000"/>
<rect x="1690.6" y="770.7" width="68.3" height="145.9" fill="#000"/>
<rect x="1695.1" y="775.2" width="59.3" height="141.4" fill="#fff"/>
<path d="M1698.3 775.2H1704.55V778.45H1698.3ZM1710.8 775.2H1717.05V778.45H1710.8ZM1723.3 775.2H1729.55V778.45H1723.3ZM1735.8 775.2H1742.05V778.45H1735.8ZM1748.3 775.2H1754.4V778.45H1748.3ZM1695.1 778.45H1698.3V784.7H1695.1ZM1704.55 778.45H1710.8V784.7H1704.55ZM1717.05 778.45H1723.3V784.7H1717.05ZM1729.55 778.45H1735.8V784.7H1729.55ZM1742.05 778.45H1748.3V784.7H1742.05ZM1698.3 784.7H1704.55V790.95H1698.3ZM1710.8 784.7H1717.05V790.95H1710.8ZM1723.3 784.7H1729.55V790.95H1723.3ZM1735.8 784.7H1742.05V790.95H1735.8ZM1748.3 784.7H1754.4V790.95H1748.3ZM1695.1 790.95H1698.3V797.2H1695.1ZM1704.55 790.95H1710.8V797.2H1704.55ZM1717.05 790.95H1723.3V797.2H1717.05ZM1729.55 790.95H1735.8V797.2H1729.55ZM1742.05 790.95H1748.3V797.2H1742.05ZM1698.3 797.2H1704.55V803.45H1698.3ZM1710.8 797.2H1717.05V803.45H1710.8ZM1723.3 797.2H1729.55V803.45H1723.3ZM1735.8 797.2H1742.05V803.45H1735.8ZM1748.3 797.2H1754.4V803.45H1748.3ZM1695.1 803.45H1698.3V809.7H1695.1ZM1704.55 803.45H1710.8V809.7H1704.55ZM1717.05 803.45H1723.3V809.7H1717.05ZM1729.55 803.45H1735.8V809.7H1729.55ZM1742.05 803.45H1748.3V809.7H1742.05ZM1698.3 809.7H1704.55V815.95H1698.3ZM1710.8 809.7H1717.05V815.95H1710.8ZM1723.3 809.7H1729.55V815.95H1723.3ZM1735.8 809.7H1742.05V815.95H1735.8ZM1748.3 809.7H1754.4V815.95H1748.3ZM1695.1 815.95H1698.3V822.2H1695.1ZM1704.55 815.95H1710.8V822.2H1704.55ZM1717.05 815.95H1723.3V822.2H1717.05ZM1729.55 815.95H1735.8V822.2H1729.55ZM1742.05 815.95H1748.3V822.2H1742.05ZM1698.3 822.2H1704.55V828.45H1698.3ZM1710.8 822.2H1717.05V828.45H1710.8ZM1723.3 822.2H1729.55V828.45H1723.3ZM1735.8 822.2H1742.05V828.45H1735.8ZM1748.3 822.2H1754.4V828.45H1748.3ZM1695.1 828.45H1698.3V834.7H1695.1ZM1704.55 828.45H1710.8V834.7H1704.55ZM1717.05 828.45H1723.3V834.7H1717.05ZM1729.55 828.45H1735.8V834.7H1729.55ZM1742.05 828.45H1748.3V834.7H1742.05ZM1698.3 834.7H1704.55V840.95H1698.3ZM1710.8 834.7H1717.05V840.95H1710.8ZM1723.3 834.7H1729.55V840.95H1723.3ZM1735.8 834.7H1742.05V840.95H1735.8ZM1748.3 834.7H1754.4V840.95H1748.3ZM1695.1 840.95H1698.3V847.2H1695.1ZM1704.55 840.95H1710.8V847.2H1704.55ZM1717.05 840.95H1723.3V847.2H1717.05ZM1729.55 840.95H1735.8V847.2H1729.55ZM1742.05 840.95H1748.3V847.2H1742.05ZM1698.3 847.2H1704.55V853.45H1698.3ZM1710.8 847.2H1717.05V853.45H1710.8ZM1723.3 847.2H1729.55V853.45H1723.3ZM1735.8 847.2H1742.05V853.45H1735.8ZM1748.3 847.2H1754.4V853.45H1748.3ZM1695.1 853.45H1698.3V859.7H1695.1ZM1704.55 853.45H1710.8V859.7H1704.55ZM1717.05 853.45H1723.3V859.7H1717.05ZM1729.55 853.45H1735.8V859.7H1729.55ZM1742.05 853.45H1748.3V859.7H1742.05ZM1698.3 859.7H1704.55V865.95H1698.3ZM1710.8 859.7H1717.05V865.95H1710.8ZM1723.3 859.7H1729.55V865.95H1723.3ZM1735.8 859.7H1742.05V865.95H1735.8ZM1748.3 859.7H1754.4V865.95H1748.3ZM1695.1 865.95H1698.3V872.2H1695.1ZM1704.55 865.95H1710.8V872.2H1704.55ZM1717.05 865.95H1723.3V872.2H1717.05ZM1729.55 865.95H1735.8V872.2H1729.55ZM1742.05 865.95H1748.3V872.2H1742.05ZM1698.3 872.2H1704.55V878.45H1698.3ZM1710.8 872.2H1717.05V878.45H1710.8ZM1723.3 872.2H1729.55V878.45H1723.3ZM1735.8 872.2H1742.05V878.45H1735.8ZM1748.3 872.2H1754.4V878.45H1748.3ZM1695.1 878.45H1698.3V884.7H1695.1ZM1704.55 878.45H1710.8V884.7H1704.55ZM1717.05 878.45H1723.3V884.7H1717.05ZM1729.55 878.45H1735.8V884.7H1729.55ZM1742.05 878.45H1748.3V884.7H1742.05ZM1698.3 884.7H1704.55V890.95H1698.3ZM1710.8 884.7H1717.05V890.95H1710.8ZM1723.3 884.7H1729.55V890.95H1723.3ZM1735.8 884.7H1742.05V890.95H1735.8ZM1748.3 884.7H1754.4V890.95H1748.3ZM1695.1 890.95H1698.3V897.2H1695.1ZM1704.55 890.95H1710.8V897.2H1704.55ZM1717.05 890.95H1723.3V897.2H1717.05ZM1729.55 890.95H1735.8V897.2H1729.55ZM1742.05 890.95H1748.3V897.2H1742.05ZM1698.3 897.2H1704.55V903.45H1698.3ZM1710.8 897.2H1717.05V903.45H1710.8ZM1723.3 897.2H1729.55V903.45H1723.3ZM1735.8 897.2H1742.05V903.45H1735.8ZM1748.3 897.2H1754.4V903.45H1748.3ZM1695.1 903.45H1698.3V909.7H1695.1ZM1704.55 903.45H1710.8V909.7H1704.55ZM1717.05 903.45H1723.3V909.7H1717.05ZM1729.55 903.45H1735.8V909.7H1729.55ZM1742.05 903.45H1748.3V909.7H1742.05ZM1698.3 909.7H1704.55V915.95H1698.3ZM1710.8 909.7H1717.05V915.95H1710.8ZM1723.3 909.7H1729.55V915.95H1723.3ZM1735.8 909.7H1742.05V915.95H1735.8ZM1748.3 909.7H1754.4V915.95H1748.3ZM1695.1 915.95H1698.3V916.6H1695.1ZM1704.55 915.95H1710.8V916.6H1704.55ZM1717.05 915.95H1723.3V916.6H1717.05ZM1729.55 915.95H1735.8V916.6H1729.55ZM1742.05 915.95H1748.3V916.6H1742.05Z" fill="#000"/>
<rect x="1722.55" y="752.7" width="4.5" height="18.5" fill="#000"/>
<rect x="1706.5" y="748.8" width="36.7" height="4.4" fill="#000"/>
<rect x="1785.8" y="848.7" width="68.3" height="67.9" fill="#000"/>
<rect x="1790.3" y="853.2" width="59.3" height="63.4" fill="#fff"/>
<path d="M1793.5 853.2H1799.75V856.45H1793.5ZM1806 853.2H1812.25V856.45H1806ZM1818.5 853.2H1824.75V856.45H1818.5ZM1831 853.2H1837.25V856.45H1831ZM1843.5 853.2H1849.6V856.45H1843.5ZM1790.3 856.45H1793.5V862.7H1790.3ZM1799.75 856.45H1806V862.7H1799.75ZM1812.25 856.45H1818.5V862.7H1812.25ZM1824.75 856.45H1831V862.7H1824.75ZM1837.25 856.45H1843.5V862.7H1837.25ZM1793.5 862.7H1799.75V868.95H1793.5ZM1806 862.7H1812.25V868.95H1806ZM1818.5 862.7H1824.75V868.95H1818.5ZM1831 862.7H1837.25V868.95H1831ZM1843.5 862.7H1849.6V868.95H1843.5ZM1790.3 868.95H1793.5V875.2H1790.3ZM1799.75 868.95H1806V875.2H1799.75ZM1812.25 868.95H1818.5V875.2H1812.25ZM1824.75 868.95H1831V875.2H1824.75ZM1837.25 868.95H1843.5V875.2H1837.25ZM1793.5 875.2H1799.75V881.45H1793.5ZM1806 875.2H1812.25V881.45H1806ZM1818.5 875.2H1824.75V881.45H1818.5ZM1831 875.2H1837.25V881.45H1831ZM1843.5 875.2H1849.6V881.45H1843.5ZM1790.3 881.45H1793.5V887.7H1790.3ZM1799.75 881.45H1806V887.7H1799.75ZM1812.25 881.45H1818.5V887.7H1812.25ZM1824.75 881.45H1831V887.7H1824.75ZM1837.25 881.45H1843.5V887.7H1837.25ZM1793.5 887.7H1799.75V893.95H1793.5ZM1806 887.7H1812.25V893.95H1806ZM1818.5 887.7H1824.75V893.95H1818.5ZM1831 887.7H1837.25V893.95H1831ZM1843.5 887.7H1849.6V893.95H1843.5ZM1790.3 893.95H1793.5V900.2H1790.3ZM1799.75 893.95H1806V900.2H1799.75ZM1812.25 893.95H1818.5V900.2H1812.25ZM1824.75 893.95H1831V900.2H1824.75ZM1837.25 893.95H1843.5V900.2H1837.25ZM1793.5 900.2H1799.75V906.45H1793.5ZM1806 900.2H1812.25V906.45H1806ZM1818.5 900.2H1824.75V906.45H1818.5ZM1831 900.2H1837.25V906.45H1831ZM1843.5 900.2H1849.6V906.45H1843.5ZM1790.3 906.45H1793.5V912.7H1790.3ZM1799.75 906.45H1806V912.7H1799.75ZM1812.25 906.45H1818.5V912.7H1812.25ZM1824.75 906.45H1831V912.7H1824.75ZM1837.25 906.45H1843.5V912.7H1837.25ZM1793.5 912.7H1799.75V916.6H1793.5ZM1806 912.7H1812.25V916.6H1806ZM1818.5 912.7H1824.75V916.6H1818.5ZM1831 912.7H1837.25V916.6H1831ZM1843.5 912.7H1849.6V916.6H1843.5Z" fill="#000"/>
<rect x="1817.55" y="844.7" width="4.5" height="4.5" fill="#000"/>
<rect x="1801.5" y="840.8" width="36.6" height="4.4" fill="#000"/>
<line x1="1630.7" y1="615.3" x2="1825.8" y2="615.3" stroke="#000" stroke-width="3"/>
<text transform="translate(1699.15,612.26) scale(0.8723,1)" font-size="38.72" fill="#1a1a1a">***</text>
<text transform="translate(1385.13,953.1) scale(1.1418,1)" font-size="27.24" font-weight="bold" fill="#000">Unstim.</text>
<text transform="translate(1524.1,953.1) scale(1.1235,1)" font-size="28.55" font-weight="bold" fill="#000">6</text>
<text transform="translate(1611.88,953.1) scale(1.0586,1)" font-size="28.55" font-weight="bold" fill="#000">12</text>
<text transform="translate(1715.68,953.2) scale(1.1297,1)" font-size="29" font-weight="bold" fill="#000">6</text>
<text transform="translate(1802.75,953.2) scale(1.0971,1)" font-size="29" font-weight="bold" fill="#000">12</text>
<text transform="translate(1870.56,955) scale(0.9887,1)" font-size="34.16" font-weight="bold" fill="#000">h.</text>
</svg>
</body></html>
